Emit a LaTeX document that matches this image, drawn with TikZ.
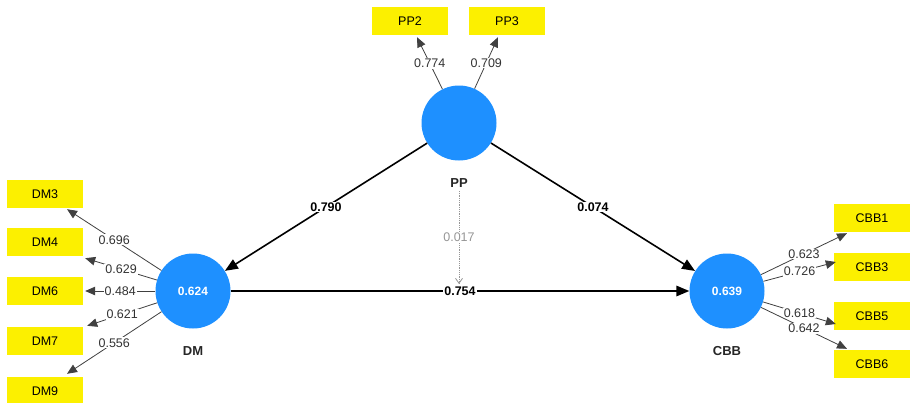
\documentclass[tikz,border=0pt]{standalone}
\usepackage{fontspec}
\setmainfont{Liberation Sans}
\usetikzlibrary{arrows.meta}
\definecolor{lvblue}{RGB}{30,144,255}
\definecolor{mvyellow}{RGB}{252,240,0}
\definecolor{dashgray}{RGB}{150,150,150}
\begin{document}
\begin{tikzpicture}[x=1pt,y=-1pt,
  latent/.style={circle,fill=lvblue,draw=none,minimum size=75pt,inner sep=0pt,text=white,font=\fontsize{12}{14}\selectfont\bfseries},
  indic/.style={rectangle,fill=mvyellow,draw=none,minimum width=76pt,minimum height=28pt,inner sep=0pt,font=\fontsize{12.5}{14}\selectfont},
  lvname/.style={font=\fontsize{13}{15}\selectfont\bfseries,text=black!85},
  loading/.style={draw=black!75,line width=0.8pt,-{Triangle[length=10pt,width=8.5pt]}},
  loadlab/.style={fill=white,inner sep=1pt,font=\fontsize{12.5}{14}\selectfont,text=black!80},
  path/.style={draw=black,line width=1.6pt,-{Triangle[length=13pt,width=10.5pt]}},
  pathlab/.style={fill=white,inner sep=1pt,font=\fontsize{12.5}{14}\selectfont\bfseries},
]
\useasboundingbox (0,0) rectangle (912,402);
\fill[white] (0,0) rectangle (912,402);

% latent variables
\node[latent] (pp) at (459,123) {};
\node[latent] (dm) at (193,291) {0.624};
\node[latent] (cbb) at (727,291) {0.639};
\node[lvname] (ppn) at (459,183) {PP};
\node[lvname] (dmn) at (193,351) {DM};
\node[lvname] (cbbn) at (727,351) {CBB};

% indicators
\node[indic] (pp2) at (410,21) {PP2};
\node[indic] (pp3) at (507,21) {PP3};
\node[indic] (dm3) at (45,194) {DM3};
\node[indic] (dm4) at (45,242) {DM4};
\node[indic] (dm6) at (45,291) {DM6};
\node[indic] (dm7) at (45,341) {DM7};
\node[indic] (dm9) at (45,391) {DM9};
\node[indic] (cbb1) at (872,218) {CBB1};
\node[indic] (cbb3) at (872,267) {CBB3};
\node[indic] (cbb5) at (872,316) {CBB5};
\node[indic] (cbb6) at (872,364) {CBB6};

% loadings
\draw[loading] (pp) -- ([xshift=7pt,yshift=-2pt]pp2.south) node[loadlab,midway] {0.774};
\draw[loading] (pp) -- ([xshift=-9pt,yshift=-2pt]pp3.south) node[loadlab,midway] {0.709};

\draw[loading] (dm) -- ([xshift=22pt,yshift=-1pt]dm3.south) node[loadlab,midway] {0.696};
\draw[loading] (dm) -- ([xshift=2pt,yshift=-2pt]dm4.south east) node[loadlab,midway] {0.629};
\draw[loading] (dm) -- ([xshift=2pt]dm6.east) node[loadlab,midway] {0.484};
\draw[loading] (dm) -- ([xshift=4pt,yshift=1pt]dm7.north east) node[loadlab,midway] {0.621};
\draw[loading] (dm) -- ([xshift=22pt,yshift=3pt]dm9.north) node[loadlab,midway] {0.556};

\draw[loading] (cbb) -- ([xshift=-25pt,yshift=-1pt]cbb1.south) node[loadlab,midway] {0.623};
\draw[loading] (cbb) -- ([xshift=2pt,yshift=5pt]cbb3.west) node[loadlab,midway] {0.726};
\draw[loading] (cbb) -- ([xshift=2pt,yshift=-8pt]cbb5.west) node[loadlab,midway] {0.618};
\draw[loading] (cbb) -- ([xshift=-25pt,yshift=1pt]cbb6.north) node[loadlab,midway] {0.642};

% structural paths
\draw[path] (pp) -- (dm) node[pathlab,midway] {0.790};
\draw[path] (pp) -- (cbb) node[pathlab,midway] {0.074};
\draw[path] (dm) -- (cbb) node[pathlab,midway] {0.754};

% moderating dashed path
\coordinate (ppmod) at (459,284);
\draw[draw=dashgray,line width=0.8pt,densely dotted,-{Straight Barb[length=5pt,width=7pt]}] (ppn.south) -- (ppmod)
  node[midway,fill=white,inner sep=1pt,text=dashgray,font=\fontsize{12.5}{14}\selectfont] {0.017};
\end{tikzpicture}
\end{document}
